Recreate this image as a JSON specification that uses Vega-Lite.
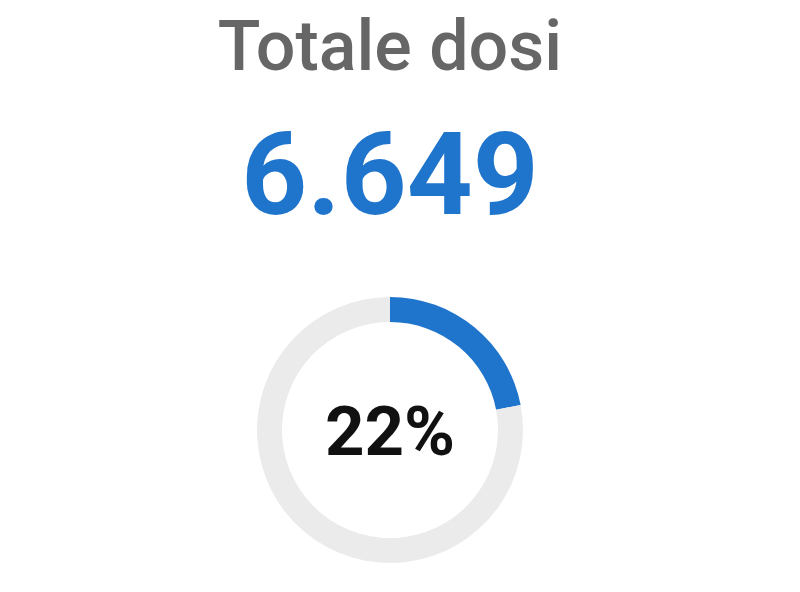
{
  "$schema": "https://vega.github.io/schema/vega-lite/v6.json",
  "autosize": "none",
  "width": 300,
  "height": 300,
  "padding": {"left": 240, "top": 280, "right": 260, "bottom": 12},
  "background": "#ffffff",
  "title": {
    "text": "Totale dosi",
    "subtitle": "6.649",
    "anchor": "middle",
    "font": "Roboto",
    "fontSize": 70,
    "fontWeight": 500,
    "color": "#666666",
    "subtitleFont": "Roboto",
    "subtitleFontSize": 115,
    "subtitleFontWeight": "bold",
    "subtitleColor": "#1f74cc",
    "subtitlePadding": 38,
    "offset": 42
  },
  "config": {"view": {"stroke": null}},
  "layer": [
    {
      "data": {"values": [
        {"categoria": "Somministrate", "valore": 22},
        {"categoria": "Rimanenti", "valore": 78}
      ]},
      "mark": {"type": "arc", "outerRadius": 133, "innerRadius": 108},
      "encoding": {
        "theta": {"field": "valore", "type": "quantitative", "stack": true},
        "order": {"field": "valore", "sort": "ascending"},
        "color": {
          "field": "categoria",
          "type": "nominal",
          "scale": {"domain": ["Somministrate", "Rimanenti"], "range": ["#1f74cc", "#ebebeb"]},
          "legend": null
        }
      }
    },
    {
      "data": {"values": [{"percentuale": "22%"}]},
      "mark": {"type": "text", "font": "Roboto", "fontSize": 69, "fontWeight": "bold", "color": "#111111", "align": "center", "baseline": "middle", "dy": 4},
      "encoding": {"text": {"field": "percentuale", "type": "nominal"}}
    }
  ]
}
